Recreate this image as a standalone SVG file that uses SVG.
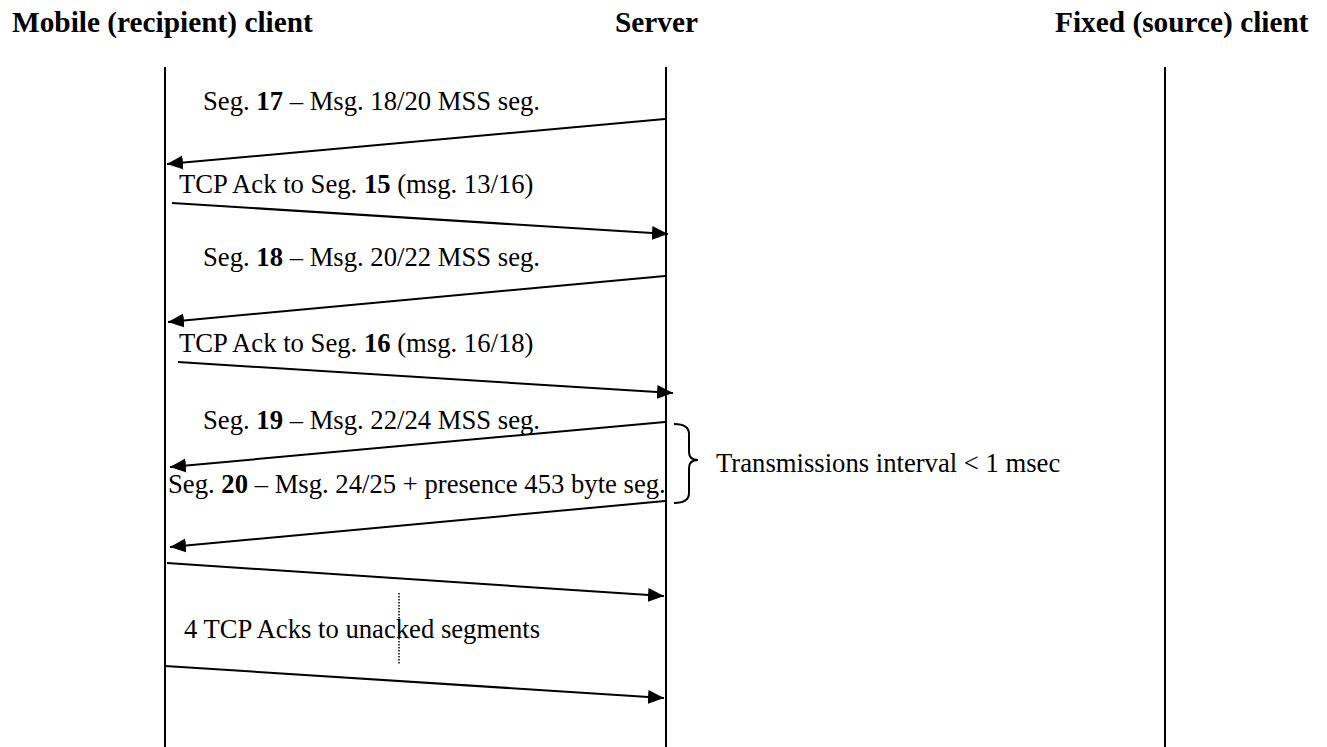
<svg xmlns="http://www.w3.org/2000/svg" width="1327" height="747" viewBox="0 0 1327 747">
<style>
.hdr{font-family:"Liberation Serif","Times New Roman",serif;font-weight:bold;font-size:29.33px;fill:#000}
.lbl{font-family:"Liberation Serif","Times New Roman",serif;font-size:26.67px;fill:#000}
.life{stroke:#000;stroke-width:2;fill:none}
.msg{stroke:#000;stroke-width:2;fill:none;marker-end:url(#ah)}
</style>
<defs>
<marker id="ah" markerUnits="userSpaceOnUse" markerWidth="17" markerHeight="15" refX="16" refY="7" orient="auto">
<path d="M0,0 L16,7 L0,14 z" fill="#000"/>
</marker>
</defs>
<rect width="1327" height="747" fill="#fff"/>
<g id="mobile">
<text class="hdr" x="12" y="32">Mobile (recipient) client</text>
<line class="life" x1="165" y1="67" x2="165" y2="747"/>
</g>
<g id="server">
<text class="hdr" x="615" y="32">Server</text>
<line class="life" x1="666" y1="67" x2="666" y2="747"/>
</g>
<g id="fixed">
<text class="hdr" x="1055" y="32">Fixed (source) client</text>
<line class="life" x1="1165" y1="67" x2="1165" y2="747"/>
</g>
<g id="connectors">
<line class="msg" x1="665" y1="119" x2="167" y2="164"/>
<line class="msg" x1="172" y1="203" x2="668" y2="234"/>
<line class="msg" x1="665" y1="276" x2="168" y2="322"/>
<line class="msg" x1="178" y1="362" x2="673" y2="393"/>
<line class="msg" x1="665" y1="422" x2="170" y2="467"/>
<line class="msg" x1="665" y1="501" x2="170" y2="547"/>
<line class="msg" x1="167" y1="563" x2="664" y2="596"/>
<line class="msg" x1="165" y1="666" x2="664" y2="698"/>
<line x1="399" y1="593" x2="399" y2="664" stroke="#000" stroke-width="1.5" stroke-dasharray="1.5,1.5"/>
<path d="M674 424 Q689 424 689 434 L689 452 Q689 460 698 460 Q689 460 689 468 L689 493 Q689 503 674 503" fill="none" stroke="#000" stroke-width="2"/>
</g>
<g id="labels">
<text class="lbl" x="203" y="110">Seg. <tspan font-weight="bold">17</tspan> – Msg. 18/20 MSS seg.</text>
<text class="lbl" x="179" y="193">TCP Ack to Seg. <tspan font-weight="bold">15</tspan> (msg. 13/16)</text>
<text class="lbl" x="203" y="266">Seg. <tspan font-weight="bold">18</tspan> – Msg. 20/22 MSS seg.</text>
<text class="lbl" x="179" y="352">TCP Ack to Seg. <tspan font-weight="bold">16</tspan> (msg. 16/18)</text>
<text class="lbl" x="203" y="429">Seg. <tspan font-weight="bold">19</tspan> – Msg. 22/24 MSS seg.</text>
<text class="lbl" x="168" y="493">Seg. <tspan font-weight="bold">20</tspan> – Msg. 24/25 + presence 453 byte seg.</text>
<text class="lbl" x="716" y="472">Transmissions interval &lt; 1 msec</text>
<text class="lbl" x="184" y="638">4 TCP Acks to unacked segments</text>
</g>
</svg>
